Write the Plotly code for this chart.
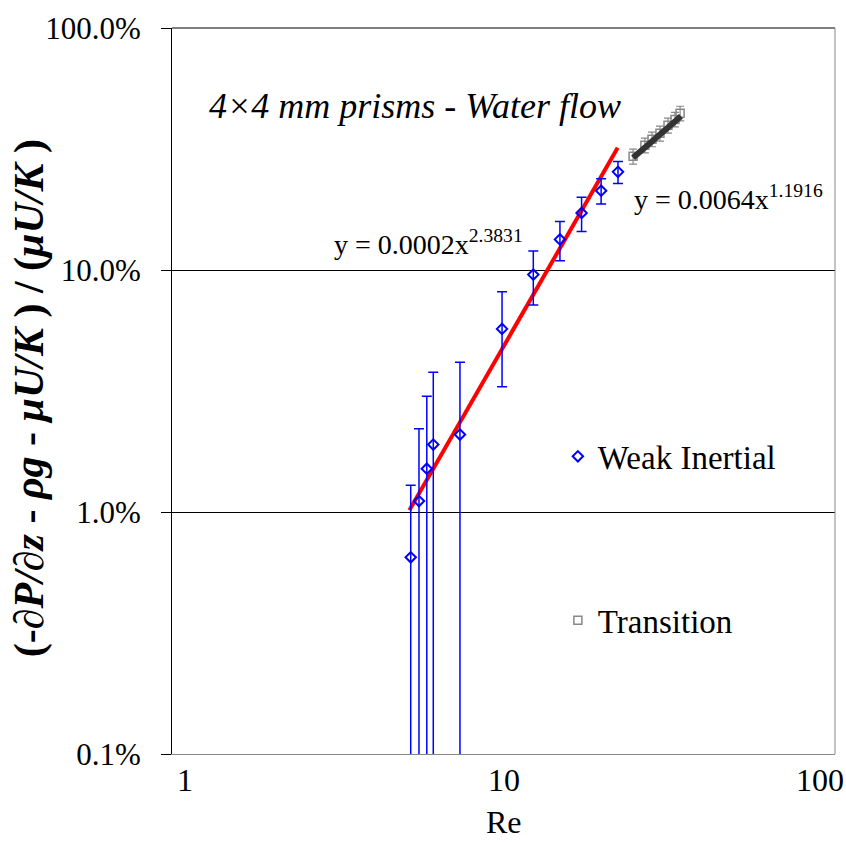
import plotly.graph_objects as go

# ---- data ----
re_weak = [5.25, 5.56, 5.87, 6.14, 7.39, 9.90, 12.3, 14.8, 17.2, 19.7, 22.15]
frac_weak = [0.0065, 0.0111, 0.0151, 0.0190, 0.0209, 0.0571, 0.0957, 0.1338, 0.1721, 0.2127, 0.2544]
err_weak = [0.0064, 0.0110, 0.0150, 0.0188, 0.0207, 0.0242, 0.0241, 0.0247, 0.0277, 0.0254, 0.0264]

re_trans = [24.6, 26.7, 28.05, 29.65, 31.35, 32.9, 34.1]
frac_trans = [0.295, 0.328, 0.347, 0.367, 0.396, 0.419, 0.444]
err_trans = [0.021, 0.023, 0.024, 0.026, 0.028, 0.029, 0.031]

# power-law fits shown on the chart: y = a * x^b
fit_weak_coef = [0.0002, 2.3831]
fit_weak_range = [5.2, 22.1]
fit_trans_coef = [0.0064, 1.1916]
fit_trans_range = [24.6, 34.3]

x_ticks = [1, 10, 100]
x_labels = ["1", "10", "100"]
y_ticks = [0.001, 0.01, 0.1, 1.0]

FONT = "Liberation Serif, Times New Roman, serif"

def fit_line(coef, rng):
    a, b = coef
    return rng, [a * x ** b for x in rng]

fig = go.Figure()

fx, fy = fit_line(fit_weak_coef, fit_weak_range)
fig.add_trace(go.Scatter(x=fx, y=fy, mode="lines", line=dict(color="red", width=4),
                         showlegend=False, hoverinfo="skip"))
fx2, fy2 = fit_line(fit_trans_coef, fit_trans_range)

fig.add_trace(go.Scatter(
    x=re_weak, y=frac_weak, mode="markers", name="Weak Inertial",
    marker=dict(symbol="diamond-open", size=8, color="blue", line=dict(width=2, color="blue")),
    error_y=dict(type="data", array=err_weak, visible=True, color="blue", thickness=1.5, width=5),
    legend="legend"))
fig.add_trace(go.Scatter(
    x=re_trans, y=frac_trans, mode="markers", name="Transition",
    marker=dict(symbol="square-open", size=8, color="#888888", line=dict(width=1.5, color="#888888")),
    error_y=dict(type="data", array=err_trans, visible=True, color="#888888", thickness=1.2, width=4),
    legend="legend2"))
fig.add_trace(go.Scatter(x=fx2, y=fy2, mode="lines", line=dict(color="#333333", width=6),
                         showlegend=False, hoverinfo="skip"))

# x tick labels as text (Excel-style placement, nudged inward at the ends)
label_shift = [13, 0, -15]
x_label_annots = [
    dict(text=lab, xref="x", yref="paper", x=[0, 1, 2][i], y=0, yanchor="top",
         xanchor="center", xshift=label_shift[i], yshift=-6, showarrow=False,
         font=dict(family=FONT, size=32))
    for i, lab in enumerate(x_labels)
]

fig.update_layout(
    width=846, height=842,
    margin=dict(l=172, r=11, t=24, b=88),
    paper_bgcolor="white", plot_bgcolor="white",
    font=dict(family=FONT, size=31, color="black"),
    xaxis=dict(type="log", range=[0, 2], tickvals=x_ticks, showticklabels=False,
               showgrid=False, zeroline=False, showline=True, linecolor="#888888", linewidth=1,
               ticks=""),
    yaxis=dict(type="log", range=[-3, 0], tickvals=y_ticks, tickformat=".1%",
               showgrid=True, gridcolor="black", gridwidth=1, zeroline=False,
               showline=True, linecolor="black", linewidth=1,
               ticks="outside", ticklen=10, tickcolor="black", ticklabelstandoff=14,
               tickfont=dict(family=FONT, size=31)),
    legend=dict(x=0.582, y=0.41, xanchor="left", yanchor="middle", bgcolor="rgba(0,0,0,0)",
                font=dict(family=FONT, size=33), itemwidth=30),
    legend2=dict(x=0.582, y=0.184, xanchor="left", yanchor="middle", bgcolor="rgba(0,0,0,0)",
                 font=dict(family=FONT, size=33), itemwidth=30),
    shapes=[
        dict(type="line", xref="paper", yref="paper", x0=0, x1=1, y0=1, y1=1,
             line=dict(color="black", width=1)),
        dict(type="line", xref="paper", yref="paper", x0=1, x1=1, y0=0, y1=1,
             line=dict(color="#888888", width=1)),
    ],
    annotations=x_label_annots + [
        dict(text="<i>4×4 mm prisms - Water flow</i>", xref="paper", yref="paper",
             x=0.3665, y=0.892, xanchor="center", yanchor="middle", showarrow=False,
             font=dict(family=FONT, size=36)),
        dict(text="y = 0.0002x<sup>2.3831</sup>", xref="paper", yref="paper",
             x=0.2413, y=0.704, xanchor="left", yanchor="middle", showarrow=False,
             font=dict(family=FONT, size=28)),
        dict(text="y = 0.0064x<sup>1.1916</sup>", xref="paper", yref="paper",
             x=0.694, y=0.766, xanchor="left", yanchor="middle", showarrow=False,
             font=dict(family=FONT, size=28)),
        dict(text="<b>(-<i>∂P/∂z</i> - <i>ρg</i> - <i>μU/K</i> ) / (<i>μU/K</i> )</b>",
             xref="paper", yref="paper", x=-0.2157, y=0.49, xanchor="center", yanchor="middle",
             textangle=-90, showarrow=False, font=dict(family=FONT, size=42)),
        dict(text="Re", xref="paper", yref="paper", x=0.5, y=-0.093,
             xanchor="center", yanchor="middle", showarrow=False,
             font=dict(family=FONT, size=32)),
    ],
)

fig.write_html("out.html", post_script="document.body.style.margin='0';",
               config={"displayModeBar": False})
